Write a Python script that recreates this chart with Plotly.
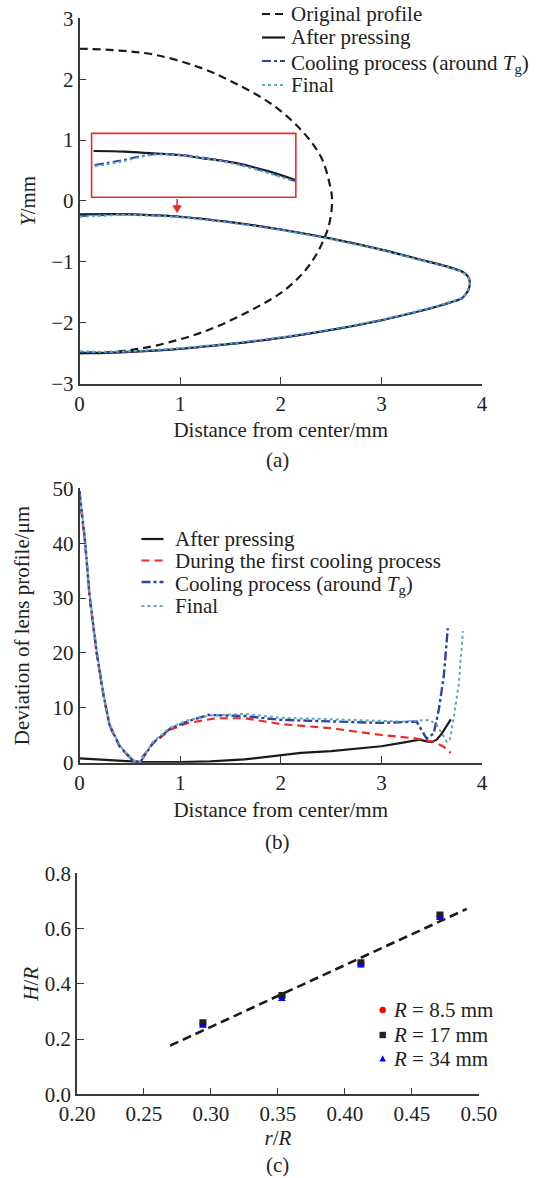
import plotly.graph_objects as go

# ---------------- Panel (a) data ----------------
orig_x = [0, 0.4, 0.75, 1.2, 1.55, 1.9, 2.2, 2.4, 2.49, 2.51, 2.47, 2.3, 2.05, 1.7, 1.25, 0.75, 0.4, 0]
orig_y = [2.5, 2.47, 2.4, 2.19, 1.93, 1.6, 1.17, 0.72, 0.25, 0.0, -0.45, -1.02, -1.45, -1.8, -2.14, -2.38, -2.47, -2.5]

lens_x = [0, 0.5, 1.0, 1.5, 2.0, 2.5, 3.0, 3.4, 3.7, 3.8, 3.86, 3.88, 3.86, 3.8,
          3.7, 3.5, 3.0, 2.5, 2.0, 1.5, 1.0, 0.5, 0.2, 0]
press_y = [-0.22, -0.22, -0.26, -0.35, -0.47, -0.62, -0.80, -0.97, -1.10, -1.16, -1.24, -1.35, -1.48, -1.60,
           -1.66, -1.76, -1.96, -2.12, -2.25, -2.35, -2.43, -2.48, -2.50, -2.50]
coolTg_y = [-0.25, -0.22, -0.26, -0.35, -0.47, -0.62, -0.80, -0.97, -1.10, -1.16, -1.24, -1.35, -1.48, -1.60,
            -1.66, -1.76, -1.96, -2.12, -2.25, -2.35, -2.43, -2.48, -2.49, -2.48]
final_y = [-0.26, -0.23, -0.27, -0.36, -0.48, -0.63, -0.81, -0.98, -1.11, -1.17, -1.25, -1.35, -1.47, -1.59,
           -1.65, -1.75, -1.95, -2.11, -2.24, -2.34, -2.42, -2.47, -2.48, -2.47]

# zoomed inset (inside red box)
inset_press_x = [0.14, 0.45, 0.73, 1.0, 1.23, 1.56, 1.89, 2.15]
inset_press_y = [0.82, 0.81, 0.78, 0.75, 0.70, 0.62, 0.48, 0.34]
inset_cool_x = [0.15, 0.4, 0.7, 0.9, 1.23, 1.56, 1.89, 2.15]
inset_cool_y = [0.59, 0.66, 0.76, 0.77, 0.71, 0.61, 0.46, 0.32]
inset_final_y = [0.57, 0.64, 0.75, 0.76, 0.70, 0.60, 0.45, 0.31]

# ---------------- Panel (b) data ----------------
b_press_x = [0, 0.3, 0.6, 1.0, 1.3, 1.64, 2.0, 2.2, 2.5, 2.8, 3.0, 3.2, 3.38, 3.45, 3.5, 3.55, 3.6, 3.69]
b_press_y = [0.8, 0.5, 0.15, 0.1, 0.25, 0.6, 1.3, 1.8, 2.1, 2.6, 3.0, 3.6, 4.2, 3.9, 3.75, 4.2, 5.3, 7.9]

b_first_x = [0, 0.055, 0.10, 0.17, 0.24, 0.30, 0.40, 0.52, 0.58, 0.73, 0.90, 1.07, 1.35, 1.64, 2.0, 2.49, 3.0, 3.35, 3.52, 3.62, 3.69]
b_first_y = [48.5, 40.0, 30.2, 19.9, 12.0, 6.6, 2.9, 0.5, 0.0, 3.5, 6.0, 7.2, 8.1, 8.1, 7.05, 6.3, 5.05, 4.4, 3.8, 2.9, 1.8]

b_cool_x = [0, 0.055, 0.10, 0.17, 0.24, 0.30, 0.40, 0.52, 0.60, 0.73, 0.90, 1.07, 1.28, 1.64, 2.0, 2.49, 3.0, 3.35, 3.40, 3.45, 3.52, 3.57, 3.62, 3.66]
b_cool_y = [49.5, 40.5, 30.5, 20.2, 12.2, 6.8, 3.0, 0.6, 0.0, 3.6, 6.2, 7.5, 8.7, 8.5, 7.8, 7.5, 7.25, 7.5, 6.0, 4.4, 5.3, 9.6, 15.7, 24.5]

b_final_x = [0, 0.055, 0.10, 0.17, 0.24, 0.30, 0.40, 0.52, 0.60, 0.73, 0.90, 1.07, 1.3, 1.64, 2.0, 2.49, 3.0, 3.22, 3.48, 3.55, 3.65, 3.68, 3.72, 3.77, 3.81]
b_final_y = [49.0, 40.8, 30.8, 20.5, 12.4, 7.0, 3.1, 0.6, 0.0, 3.8, 6.4, 7.7, 8.6, 8.9, 8.2, 7.9, 7.5, 7.5, 7.8, 6.9, 3.8, 4.1, 8.4, 14.5, 24.0]

# ---------------- Panel (c) data ----------------
c_rR = [0.294, 0.353, 0.412, 0.471]
c_R85 = [0.255, 0.355, 0.472, 0.645]
c_R17 = [0.259, 0.358, 0.476, 0.649]
c_R34 = [0.247, 0.344, 0.465, 0.637]
fit_x = [0.2695, 0.491]
fit_y = [0.176, 0.671]

# legend labels
leg_a = ["Original profile", "After pressing", "Cooling process (around <i>T</i><sub>g</sub>)", "Final"]
leg_b = ["After pressing", "During the first cooling process", "Cooling process (around <i>T</i><sub>g</sub>)", "Final"]
leg_c = ["<i>R</i> = 8.5 mm", "<i>R</i> = 17 mm", "<i>R</i> = 34 mm"]

# ---------------- styles ----------------
FONT = "Liberation Serif, Times New Roman, serif"
FS = 21
AX = "#3a3a3a"
TXT = "#222222"
BLACK = "#1a1a1a"
RED = "#ec2a2a"
BLUE = "#2f42a6"
CYAN = "#62a9be"
DASH = "8px,5px"

W, H = 544, 1178


def px2py(p):
    return 1 - p / H


fig = go.Figure()

# panel a
sty_a = [dict(color=BLACK, width=2.2, dash=DASH), dict(color=BLACK, width=2.2),
         dict(color=BLUE, width=2, dash="dashdot"), dict(color=CYAN, width=2, dash="dot")]
fig.add_trace(go.Scatter(x=orig_x, y=orig_y, mode="lines", name=leg_a[0],
                         line=dict(**sty_a[0], shape="spline"), xaxis="x", yaxis="y"))
fig.add_trace(go.Scatter(x=lens_x, y=press_y, mode="lines", name=leg_a[1],
                         line=dict(**sty_a[1], shape="spline", smoothing=0.6), xaxis="x", yaxis="y"))
fig.add_trace(go.Scatter(x=lens_x, y=coolTg_y, mode="lines", name=leg_a[2],
                         line=dict(**sty_a[2], shape="spline", smoothing=0.6), xaxis="x", yaxis="y"))
fig.add_trace(go.Scatter(x=lens_x, y=final_y, mode="lines", name=leg_a[3],
                         line=dict(**sty_a[3], shape="spline", smoothing=0.6), xaxis="x", yaxis="y"))
fig.add_trace(go.Scatter(x=inset_press_x, y=inset_press_y, mode="lines", name="inset after pressing",
                         line=dict(**sty_a[1], shape="spline"), xaxis="x", yaxis="y"))
fig.add_trace(go.Scatter(x=inset_cool_x, y=inset_cool_y, mode="lines", name="inset cooling",
                         line=dict(**sty_a[2], shape="spline"), xaxis="x", yaxis="y"))
fig.add_trace(go.Scatter(x=inset_cool_x, y=inset_final_y, mode="lines", name="inset final",
                         line=dict(**sty_a[3], shape="spline"), xaxis="x", yaxis="y"))

# panel b
sty_b = [dict(color=BLACK, width=2.2), dict(color=RED, width=2.2, dash=DASH),
         dict(color=BLUE, width=2.4, dash="dashdot"), dict(color=CYAN, width=2, dash="dot")]
for xs, ys, nm, st in [(b_press_x, b_press_y, leg_b[0], sty_b[0]),
                       (b_first_x, b_first_y, leg_b[1], sty_b[1]),
                       (b_cool_x, b_cool_y, leg_b[2], sty_b[2]),
                       (b_final_x, b_final_y, leg_b[3], sty_b[3])]:
    fig.add_trace(go.Scatter(x=xs, y=ys, mode="lines", name=nm, line=st, xaxis="x2", yaxis="y2"))

# panel c
fig.add_trace(go.Scatter(x=fit_x, y=fit_y, mode="lines", name="fit",
                         line=dict(color=BLACK, width=2.6, dash="9px,5px"), xaxis="x3", yaxis="y3"))
mk_c = [("circle", "#ff0000"), ("square", "#222222"), ("triangle-up", "#0000ff")]
for ys, nm, (sym, col) in zip([c_R85, c_R17, c_R34], leg_c, mk_c):
    fig.add_trace(go.Scatter(x=c_rR, y=ys, mode="markers", name=nm,
                             marker=dict(symbol=sym, size=7, color=col), xaxis="x3", yaxis="y3"))

axis_common = dict(showline=True, linecolor=AX, linewidth=1.6, ticks="inside", ticklen=7,
                   tickwidth=1.4, tickcolor=AX, showgrid=False, zeroline=False, mirror=False,
                   tickfont=dict(family=FONT, size=FS, color=TXT), automargin=False)
title_font = dict(family=FONT, size=FS, color=TXT)

fig.update_layout(
    width=W, height=H, margin=dict(l=0, r=0, t=0, b=0, autoexpand=False),
    paper_bgcolor="white", plot_bgcolor="white", showlegend=False,
    font=dict(family=FONT, size=FS, color=TXT),
    xaxis=dict(domain=[79.5 / W, 482 / W], range=[0, 4], dtick=1, anchor="y",
               title=dict(text="Distance from center/mm", font=title_font, standoff=8), **axis_common),
    yaxis=dict(domain=[px2py(383.5), px2py(18.3)], range=[-3, 3], dtick=1, anchor="x",
               title=dict(text="<i>Y</i>/mm", font=title_font, standoff=10), **axis_common),
    xaxis2=dict(domain=[79.5 / W, 482 / W], range=[0, 4], dtick=1, anchor="y2",
                title=dict(text="Distance from center/mm", font=title_font, standoff=9), **axis_common),
    yaxis2=dict(domain=[px2py(762.7), px2py(488.3)], range=[0, 50], dtick=10, anchor="x2",
                title=dict(text="Deviation of lens profile/μm", font=title_font, standoff=17), **axis_common),
    xaxis3=dict(domain=[77 / W, 478.8 / W], range=[0.2, 0.5], dtick=0.05, tickformat=".2f", anchor="y3",
                title=dict(text="<i>r</i>/<i>R</i>", font=title_font, standoff=0), **axis_common),
    yaxis3=dict(domain=[px2py(1094.3), px2py(873.3)], range=[0, 0.8], dtick=0.2, tickformat=".1f", anchor="x3",
                title=dict(text="<i>H</i>/<i>R</i>", font=title_font, standoff=0), **axis_common),
)

# red zoom box and arrow in panel (a)
fig.add_shape(type="rect", xref="x", yref="y", x0=0.12, x1=2.15, y0=0.06, y1=1.11,
              line=dict(color=RED, width=1.6), fillcolor="rgba(0,0,0,0)")
fig.add_shape(type="line", xref="x", yref="y", x0=0.97, x1=0.97, y0=0.03, y1=-0.12,
              line=dict(color=RED, width=1.5))
fig.add_shape(type="path", xref="x", yref="y", path="M 0.93 -0.08 L 1.01 -0.08 L 0.97 -0.19 Z",
              fillcolor=RED, line=dict(color=RED, width=1))


def legend_text(txt, xpx, ypx):
    fig.add_annotation(x=xpx / W, y=px2py(ypx), xref="paper", yref="paper", text=txt, showarrow=False,
                       font=dict(family=FONT, size=FS, color=TXT), xanchor="left", yanchor="middle",
                       borderpad=0)


def legend_line(st, x0, x1, ypx):
    fig.add_shape(type="line", xref="paper", yref="paper", x0=x0 / W, x1=x1 / W,
                  y0=px2py(ypx), y1=px2py(ypx), line=dict(color=st["color"], width=st["width"],
                                                          dash=st.get("dash", "solid")))


# legend (a)
for lab, st, yy in zip(leg_a, sty_a, [14, 37.5, 61, 85]):
    legend_line(st, 262, 285, yy)
    legend_text(lab, 290, yy + (3 if "sub" in lab else 0))

# legend (b)
for lab, st, yy in zip(leg_b, sty_b, [539, 560.5, 582, 606]):
    legend_line(st, 141.5, 163.5, yy)
    legend_text(lab, 173.5, yy + (3 if "sub" in lab else 0))

# legend (c)
for lab, (sym, col), yy in zip(leg_c, mk_c, [1010, 1035, 1059]):
    cx, r = 382.7, 3.2
    if sym == "circle":
        fig.add_shape(type="circle", xref="paper", yref="paper", x0=(cx - r) / W, x1=(cx + r) / W,
                      y0=px2py(yy + r), y1=px2py(yy - r), fillcolor=col, line=dict(width=0))
    elif sym == "square":
        fig.add_shape(type="rect", xref="paper", yref="paper", x0=(cx - r) / W, x1=(cx + r) / W,
                      y0=px2py(yy + r), y1=px2py(yy - r), fillcolor=col, line=dict(width=0))
    else:
        fig.add_shape(type="path", xref="paper", yref="paper",
                      path=f"M {(cx - r) / W} {px2py(yy + r * 0.8)} L {(cx + r) / W} {px2py(yy + r * 0.8)} "
                           f"L {cx / W} {px2py(yy - r * 1.2)} Z",
                      fillcolor=col, line=dict(width=0))
    legend_text(lab, 392, yy)

for lab, py in [("(a)", 460), ("(b)", 841.7), ("(c)", 1164.5)]:
    fig.add_annotation(x=277.5 / W, y=px2py(py), xref="paper", yref="paper", text=lab, showarrow=False,
                       font=dict(family=FONT, size=FS, color=TXT), xanchor="center", yanchor="middle")

# remove the browser's default 8px page margin so the figure sits at the window's top-left corner
fig.write_html("out.html", config={"displayModeBar": False},
               post_script="document.body.style.margin='0px';")
